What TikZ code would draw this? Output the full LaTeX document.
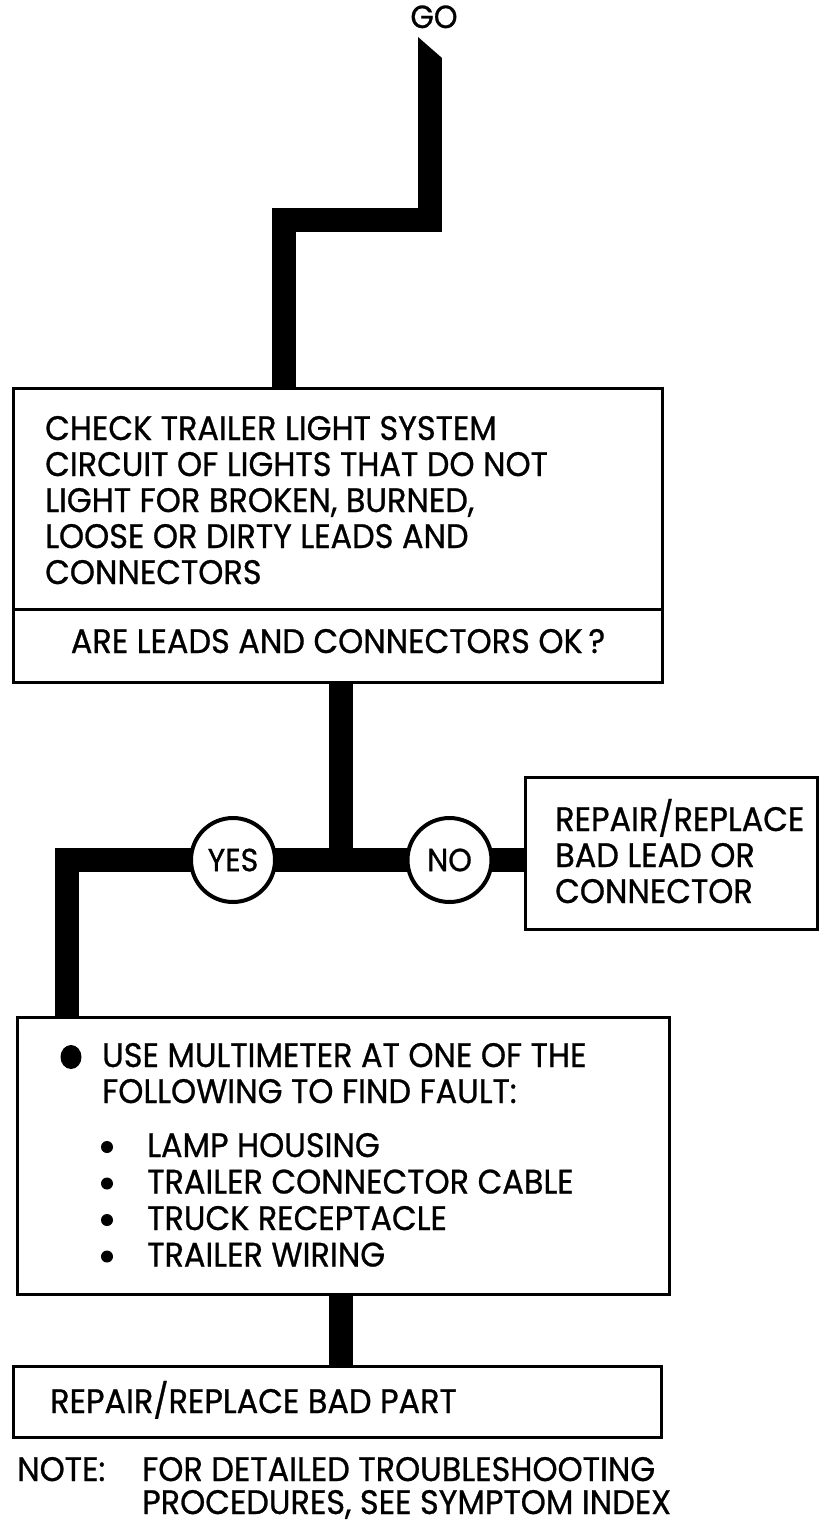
\documentclass[tikz,border=0pt]{standalone}
\usepackage{fontspec}
\setmainfont{Poppins}[FakeStretch=0.94,FakeBold=0.8]
\usetikzlibrary{backgrounds,shapes.geometric}
\begin{document}
\begin{tikzpicture}[x=1pt,y=-1pt,
  conn/.style={line width=24pt, line join=miter, line cap=butt},
  box/.style={draw, line width=3pt, fill=white, inner sep=0pt},
  txt/.style={anchor=base west, inner sep=0pt, font=\fontsize{34}{36}\selectfont},
  ctxt/.style={anchor=base, inner sep=0pt, font=\fontsize{34}{36}\selectfont},
  circ/.style={circle, draw, line width=4pt, fill=white, minimum size=84pt, inner sep=0pt, font=\fontsize{32}{34}\selectfont},
  dot/.style={circle, fill=black, inner sep=0pt, minimum size=12pt}
]
\useasboundingbox (0,0) rectangle (821,1525);

% GO
\node[ctxt, font=\fontsize{32}{34}\selectfont] (go) at (434,28) {GO};

% boxes
\node[box, minimum width=649pt, minimum height=294pt] (main) at (337.5,535) {};
\coordinate (sepL) at (13,609);
\coordinate (sepR) at (662,609);
\draw[line width=3pt] (sepL) -- (sepR);
\node[txt] (m1) at (45,440) {CHECK TRAILER LIGHT SYSTEM};
\node[txt] (m2) at (45,476) {CIRCUIT OF LIGHTS THAT DO NOT};
\node[txt] (m3) at (45,512) {LIGHT FOR BROKEN, BURNED,};
\node[txt] (m4) at (45,548) {LOOSE OR DIRTY LEADS AND};
\node[txt] (m5) at (45,584) {CONNECTORS};
\node[ctxt] (q) at (338,653) {ARE LEADS AND CONNECTORS OK\,?};

\node[circ] (yes) at (233,860) {YES};
\node[circ] (no) at (449.5,860) {NO};

\node[box, minimum width=292pt, minimum height=152pt] (nobox) at (671,853) {};
\node[txt] (n1) at (555,831) {REPAIR/REPLACE};
\node[txt] (n2) at (555,867) {BAD LEAD OR};
\node[txt] (n3) at (555,903) {CONNECTOR};

\node[box, minimum width=652pt, minimum height=277pt] (bul) at (343,1155.5) {};
\node[ellipse, fill=black, inner sep=0pt, minimum width=21pt, minimum height=24pt] (bigdot) at (71,1057) {};
\node[txt] (u1) at (102,1067) {USE MULTIMETER AT ONE OF THE};
\node[txt] (u2) at (102,1103) {FOLLOWING TO FIND FAULT:};
\node[dot] (d1) at (107,1147) {};
\node[txt] (s1) at (147,1157) {LAMP HOUSING};
\node[dot] (d2) at (107,1183.5) {};
\node[txt] (s2) at (147,1193.5) {TRAILER CONNECTOR CABLE};
\node[dot] (d3) at (107,1220) {};
\node[txt] (s3) at (147,1230) {TRUCK RECEPTACLE};
\node[dot] (d4) at (107,1256.5) {};
\node[txt] (s4) at (147,1266.5) {TRAILER WIRING};

\node[box, minimum width=648pt, minimum height=71pt] (bot) at (337,1401.5) {};
\node[txt] (b1) at (50,1413) {REPAIR/REPLACE BAD PART};

\node[txt] (note) at (17,1481) {NOTE:};
\node[txt] (note1) at (142,1481) {FOR DETAILED TROUBLESHOOTING};
\node[txt] (note2) at (142,1514) {PROCEDURES, SEE SYMPTOM INDEX};

% connectors
\coordinate (goTop) at (430,58);
\coordinate (bend1) at (430,220);
\coordinate (mainIn) at (284,388);
\coordinate (mainOut) at (341,682);
\coordinate (j) at (341,860);
\coordinate (bulIn) at (67,1017);
\coordinate (bulOut) at (341,1294);
\coordinate (botIn) at (341,1366);
\coordinate (tipA) at (418,37);
\coordinate (tipB) at (418,58);
\coordinate (tipC) at (442,58);
\begin{scope}[on background layer]
\draw[conn] (goTop) -- (bend1) -| (mainIn);
\fill (tipA) -- (tipB) -- (tipC) -- cycle;
\draw[conn] (mainOut) -- (j);
\draw[conn] (j) -- (yes.center) -| (bulIn);
\draw[conn] (j) -- (no.center) -- (no.center -| nobox.west);
\draw[conn] (bulOut) -- (botIn);
\end{scope}
\end{tikzpicture}
\end{document}
